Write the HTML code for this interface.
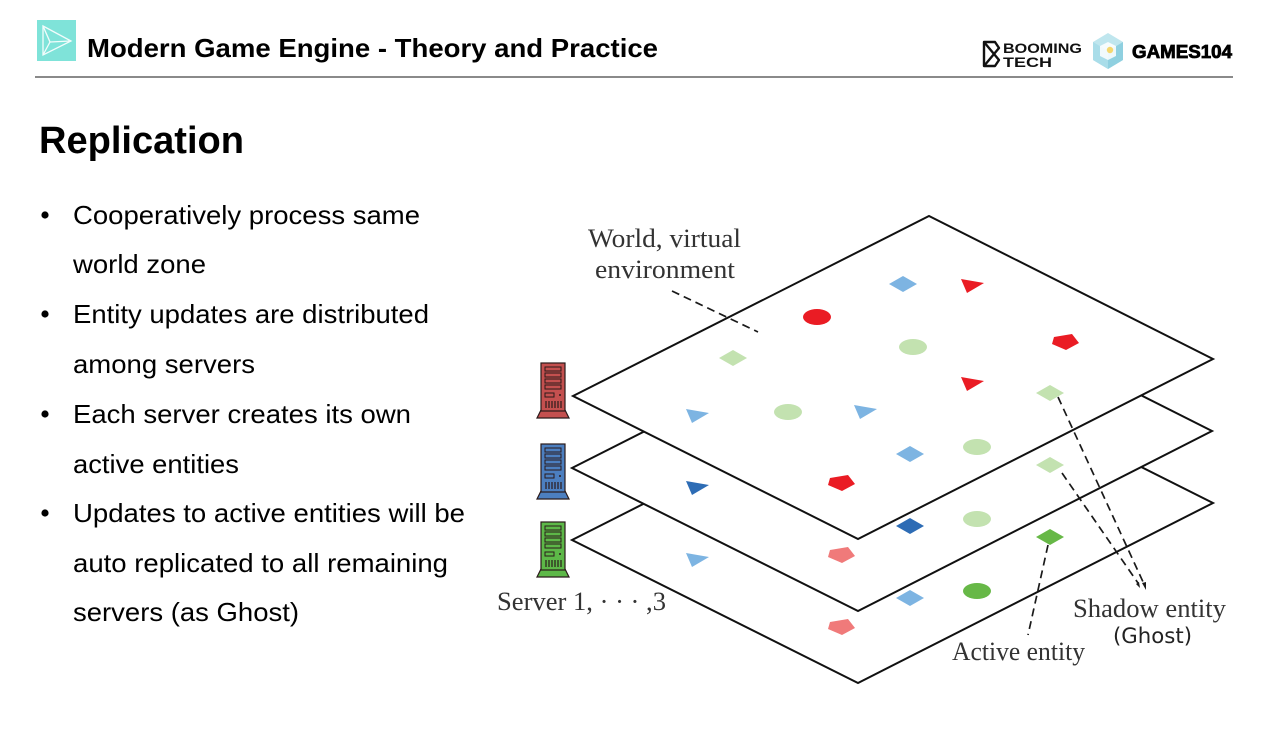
<!DOCTYPE html>
<html>
<head>
<meta charset="utf-8">
<style>
html,body{margin:0;padding:0;background:#fff;}
body{width:1280px;height:742px;overflow:hidden;}
svg{display:block;}
.sans{font-family:"Liberation Sans",Arial,sans-serif;}
.serif{font-family:"Liberation Serif","Times New Roman",serif;}
</style>
</head>
<body>
<svg width="1280" height="742" viewBox="0 0 1280 742" xmlns="http://www.w3.org/2000/svg">
  <defs>
    <g id="srv">
      <polygon points="4,47 28,47 32,55 0,55" fill="currentColor" stroke="#2a1a1a" stroke-width="1.2"/>
      <rect x="4" y="0" width="24" height="48" fill="currentColor" stroke="#2a1a1a" stroke-width="1.2"/>
      <rect x="8" y="4" width="16" height="4" fill="none" stroke="#2a1a1a" stroke-width="1"/>
      <rect x="8" y="10" width="16" height="4" fill="none" stroke="#2a1a1a" stroke-width="1"/>
      <rect x="8" y="16" width="16" height="4" fill="none" stroke="#2a1a1a" stroke-width="1"/>
      <rect x="8" y="22" width="16" height="4" fill="none" stroke="#2a1a1a" stroke-width="1"/>
      <rect x="8" y="30" width="9" height="4" fill="none" stroke="#2a1a1a" stroke-width="1"/>
      <circle cx="23" cy="32" r="1" fill="#2a1a1a"/>
      <g stroke="#2a1a1a" stroke-width="1.2">
        <line x1="9" y1="38" x2="9" y2="45"/>
        <line x1="12" y1="38" x2="12" y2="45"/>
        <line x1="15" y1="38" x2="15" y2="45"/>
        <line x1="18" y1="38" x2="18" y2="45"/>
        <line x1="21" y1="38" x2="21" y2="45"/>
        <line x1="24" y1="38" x2="24" y2="45"/>
      </g>
    </g>
    <path id="dia" d="M-14,0 L0,-8 L14,0 L0,8 Z"/>
    <path id="tri" d="M-11,-6 L12,-2 L-5,8 Z"/>
    <path id="pen" d="M-11,-5 L7,-8 L14,1 L1,8 L-13,2 Z"/>
    <ellipse id="ell" cx="0" cy="0" rx="14" ry="8"/>
  </defs>

  <!-- Header -->
  <rect x="37" y="20" width="39" height="41" fill="#7fe3d9"/>
  <g fill="none" stroke="#ffffff" stroke-width="1.3" opacity="0.9">
    <polygon points="43,26 71,41 43,55"/>
    <line x1="43" y1="26" x2="50" y2="42"/>
    <line x1="50" y1="42" x2="71" y2="41"/>
    <line x1="50" y1="42" x2="43" y2="55"/>
  </g>
  <text x="87" y="57" class="sans" font-size="26" font-weight="bold" fill="#000" textLength="571" lengthAdjust="spacingAndGlyphs">Modern Game Engine - Theory and Practice</text>
  <line x1="35" y1="77" x2="1233" y2="77" stroke="#8a8a8a" stroke-width="2"/>

  <!-- Logos -->
  <g fill="none" stroke="#111" stroke-width="2.4" stroke-linejoin="round">
    <path d="M984,42 L995,42 L999,48 L994,54 L999,60 L995,66 L984,66 Z"/>
    <line x1="984" y1="66" x2="994" y2="54"/>
    <line x1="984" y1="42" x2="994" y2="54"/>
  </g>
  <text x="1003" y="53" class="sans" font-size="14" font-weight="bold" fill="#111" textLength="79" lengthAdjust="spacingAndGlyphs">BOOMING</text>
  <text x="1003" y="67" class="sans" font-size="14" font-weight="bold" fill="#111" textLength="49" lengthAdjust="spacingAndGlyphs">TECH</text>
  <polygon points="1108,33 1123,42 1123,60 1108,69 1093,60 1093,42" fill="#bfe6ee"/>
  <polygon points="1108,51 1123,42 1123,60 1108,69" fill="#8fd0e0"/>
  <polygon points="1093,42 1108,51 1108,69 1093,60" fill="#a9dde9"/>
  <polygon points="1100,46 1108,42 1116,46 1116,56 1108,60 1100,56" fill="#ffffff" opacity="0.85"/>
  <circle cx="1110" cy="50" r="3.2" fill="#f5d76e"/>
  <text x="1132" y="58" class="sans" font-size="18" font-weight="bold" fill="#000" textLength="100" lengthAdjust="spacingAndGlyphs" stroke="#000" stroke-width="0.8">GAMES104</text>

  <!-- Left text -->
  <text x="39" y="153" class="sans" font-size="38" font-weight="bold" fill="#000" textLength="205" lengthAdjust="spacingAndGlyphs">Replication</text>
  <g class="sans" font-size="26" fill="#000">
    <circle cx="45" cy="215" r="3.6"/>
    <text x="73" y="224" textLength="347" lengthAdjust="spacingAndGlyphs">Cooperatively process same</text>
    <text x="73" y="273" textLength="133" lengthAdjust="spacingAndGlyphs">world zone</text>
    <circle cx="45" cy="314" r="3.6"/>
    <text x="73" y="323" textLength="356" lengthAdjust="spacingAndGlyphs">Entity updates are distributed</text>
    <text x="73" y="373" textLength="182" lengthAdjust="spacingAndGlyphs">among servers</text>
    <circle cx="45" cy="414" r="3.6"/>
    <text x="73" y="423" textLength="338" lengthAdjust="spacingAndGlyphs">Each server creates its own</text>
    <text x="73" y="473" textLength="166" lengthAdjust="spacingAndGlyphs">active entities</text>
    <circle cx="45" cy="513" r="3.6"/>
    <text x="73" y="522" textLength="392" lengthAdjust="spacingAndGlyphs">Updates to active entities will be</text>
    <text x="73" y="572" textLength="375" lengthAdjust="spacingAndGlyphs">auto replicated to all remaining</text>
    <text x="73" y="621" textLength="226" lengthAdjust="spacingAndGlyphs">servers (as Ghost)</text>
  </g>

  <!-- Diagram: bottom plane (server 3, green active) -->
  <polygon points="572,540 928,360 1213,503 858,683" fill="#fff" stroke="#111" stroke-width="2" stroke-linejoin="miter"/>
  <g transform="translate(0,144)">
    <use href="#dia" x="733" y="358" fill="#67b847"/>
    <use href="#ell" x="817" y="317" fill="#f07a7a"/>
    <use href="#dia" x="903" y="284" fill="#7db4e2"/>
    <use href="#tri" x="972" y="285" fill="#f07a7a"/>
    <use href="#tri" x="697" y="415" fill="#7db4e2"/>
    <use href="#ell" x="788" y="412" fill="#67b847"/>
    <use href="#tri" x="865" y="411" fill="#7db4e2"/>
    <use href="#ell" x="913" y="347" fill="#67b847"/>
    <use href="#pen" x="1065" y="342" fill="#f07a7a"/>
    <use href="#tri" x="972" y="383" fill="#f07a7a"/>
    <use href="#dia" x="1050" y="393" fill="#67b847"/>
    <use href="#pen" x="841" y="483" fill="#f07a7a"/>
    <use href="#dia" x="910" y="454" fill="#7db4e2"/>
    <use href="#ell" x="977" y="447" fill="#67b847"/>
  </g>

  <!-- middle plane (server 2, blue active) -->
  <polygon points="572,468 928,288 1212,431 858,611" fill="#fff" stroke="#111" stroke-width="2"/>
  <g transform="translate(0,72)">
    <use href="#dia" x="733" y="358" fill="#c3e2b0"/>
    <use href="#ell" x="817" y="317" fill="#f07a7a"/>
    <use href="#dia" x="903" y="284" fill="#2d6cb5"/>
    <use href="#tri" x="972" y="285" fill="#f07a7a"/>
    <use href="#tri" x="697" y="415" fill="#2d6cb5"/>
    <use href="#ell" x="788" y="412" fill="#c3e2b0"/>
    <use href="#tri" x="865" y="411" fill="#2d6cb5"/>
    <use href="#ell" x="913" y="347" fill="#c3e2b0"/>
    <use href="#pen" x="1065" y="342" fill="#f07a7a"/>
    <use href="#tri" x="972" y="383" fill="#f07a7a"/>
    <use href="#dia" x="1050" y="393" fill="#c3e2b0"/>
    <use href="#pen" x="841" y="483" fill="#f07a7a"/>
    <use href="#dia" x="910" y="454" fill="#2d6cb5"/>
    <use href="#ell" x="977" y="447" fill="#c3e2b0"/>
  </g>

  <!-- top plane (server 1, red active) -->
  <polygon points="573,396 929,216 1213,359 858,539" fill="#fff" stroke="#111" stroke-width="2"/>
  <g>
    <use href="#dia" x="733" y="358" fill="#c3e2b0"/>
    <use href="#ell" x="817" y="317" fill="#ea1c24"/>
    <use href="#dia" x="903" y="284" fill="#7db4e2"/>
    <use href="#tri" x="972" y="285" fill="#ea1c24"/>
    <use href="#tri" x="697" y="415" fill="#7db4e2"/>
    <use href="#ell" x="788" y="412" fill="#c3e2b0"/>
    <use href="#tri" x="865" y="411" fill="#7db4e2"/>
    <use href="#ell" x="913" y="347" fill="#c3e2b0"/>
    <use href="#pen" x="1065" y="342" fill="#ea1c24"/>
    <use href="#tri" x="972" y="383" fill="#ea1c24"/>
    <use href="#dia" x="1050" y="393" fill="#c3e2b0"/>
    <use href="#pen" x="841" y="483" fill="#ea1c24"/>
    <use href="#dia" x="910" y="454" fill="#7db4e2"/>
    <use href="#ell" x="977" y="447" fill="#c3e2b0"/>
  </g>

  <!-- servers -->
  <use href="#srv" x="537" y="363" style="color:#c4504f"/>
  <use href="#srv" x="537" y="444" style="color:#4c7fc0"/>
  <use href="#srv" x="537" y="522" style="color:#5db848"/>

  <!-- dashed leaders -->
  <g stroke="#1a1a1a" stroke-width="1.7" stroke-dasharray="8,5" fill="none">
    <line x1="672" y1="291" x2="758" y2="332"/>
    <line x1="1058" y1="397" x2="1144" y2="584"/>
    <line x1="1062" y1="473" x2="1138" y2="583"/>
    <line x1="1048" y1="545" x2="1028" y2="635"/>
  </g>
  <polygon points="1142,583 1146,582 1146,590" fill="#1a1a1a"/>
  <polygon points="1136,584 1139,582 1140,588" fill="#1a1a1a"/>

  <!-- diagram labels -->
  <g class="serif" font-size="26" fill="#333">
    <text x="588" y="247" textLength="153" lengthAdjust="spacingAndGlyphs">World, virtual</text>
    <text x="595" y="278" textLength="140" lengthAdjust="spacingAndGlyphs">environment</text>
    <text x="497" y="610" textLength="169" lengthAdjust="spacingAndGlyphs">Server 1, · · · ,3</text>
    <text x="1073" y="617" textLength="153" lengthAdjust="spacingAndGlyphs">Shadow entity</text>
    <text x="952" y="660" textLength="133" lengthAdjust="spacingAndGlyphs">Active entity</text>
  </g>
  <text x="1113" y="643" font-family="'DejaVu Sans',Verdana,sans-serif" font-size="21" fill="#222" textLength="79" lengthAdjust="spacingAndGlyphs">(Ghost)</text>
</svg>
</body>
</html>
